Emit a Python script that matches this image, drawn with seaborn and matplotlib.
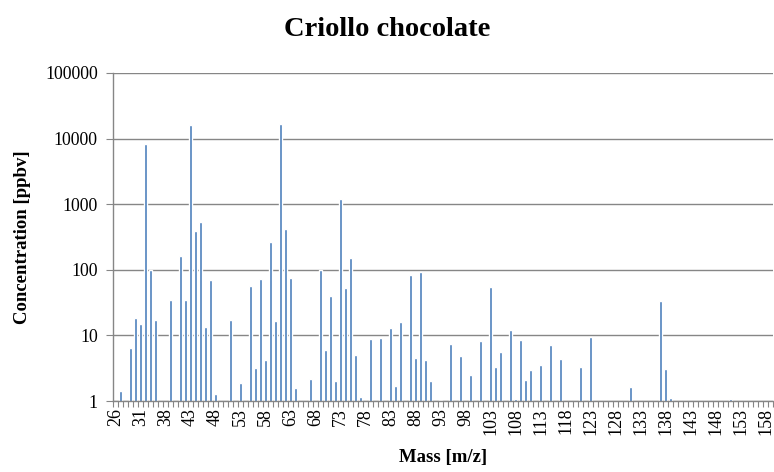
import numpy as np
import pandas as pd
import matplotlib
matplotlib.use("Agg")
import matplotlib.pyplot as plt
from matplotlib.ticker import FixedLocator, FuncFormatter, NullLocator
import seaborn as sns

# m/z channels shown on the category axis (32 and 37 are not reported)
masses = [26, 27, 28, 29, 30, 31, 33, 34, 35, 36] + list(range(38, 160))

# measured concentrations [ppbv]; None = nothing above 1 ppbv
conc_by_mass = {
    27: 1.4, 29: 6.4, 30: 18.5, 31: 15, 33: 8200, 34: 99, 35: 17,
    39: 34.5, 41: 163, 42: 34.5, 43: 16200, 44: 395, 45: 530, 46: 13.2,
    47: 71, 48: 1.3, 51: 17.3, 53: 1.9, 55: 56, 56: 3.2, 57: 73.5,
    58: 4.25, 59: 262, 60: 16.6, 61: 16800, 62: 426, 63: 76, 64: 1.6,
    67: 2.2, 69: 99, 70: 6.0, 71: 40, 72: 2.05, 73: 1200, 74: 52,
    75: 152, 76: 5.1, 77: 1.15, 79: 8.8, 81: 9.0, 83: 13.1, 84: 1.72,
    85: 16.2, 87: 84, 88: 4.5, 89: 93, 90: 4.2, 91: 2.0, 93: 1.04,
    95: 7.5, 97: 4.8, 99: 2.5, 101: 8.1, 103: 55, 104: 3.3, 105: 5.6,
    107: 11.9, 108: 1.06, 109: 8.6, 110: 2.1, 111: 3.0, 113: 3.55,
    115: 7.1, 117: 4.3, 121: 3.35, 123: 9.3, 131: 1.64, 137: 33,
    138: 3.1, 139: 1.13, 151: 1.07,
}
concentration = [conc_by_mass.get(m) for m in masses]

labels = [str(m) for m in masses]
df = pd.DataFrame({"mass": labels, "ppbv": concentration}).dropna()

sns.set_style("white")
plt.rcParams["font.family"] = ["Liberation Serif", "DejaVu Serif"]
plt.rcParams["text.color"] = "black"
plt.rcParams["axes.labelcolor"] = "black"
plt.rcParams["xtick.labelcolor"] = "black"
plt.rcParams["ytick.labelcolor"] = "black"

fig = plt.figure(figsize=(7.74, 4.72), dpi=100)
ax = fig.add_axes([113 / 774, 71 / 472, 660 / 774, 328 / 472])

bar_blue = "#4A7EBB"
grid_grey = "#868686"

sns.barplot(data=df, x="mass", y="ppbv", order=labels, color=bar_blue,
            saturation=1, width=0.5, ax=ax, errorbar=None)

ax.set_yscale("log")
ax.set_ylim(1, 100000)
ax.set_xlim(-0.5, len(masses) - 0.5)

# y axis: one labelled line per decade
decades = [1, 10, 100, 1000, 10000, 100000]
ax.yaxis.set_major_locator(FixedLocator(decades))
ax.yaxis.set_minor_locator(NullLocator())
ax.yaxis.set_major_formatter(FuncFormatter(lambda v, p: f"{int(round(v))}"))
ax.grid(axis="y", color=grid_grey, linewidth=1.0)
ax.set_axisbelow(True)

# x axis: label every fifth channel, tick marks between all channels
ax.set_xticks(range(0, len(masses), 5))
ax.set_xticklabels(labels[::5], rotation=90)
ax.set_xticks(np.arange(-0.5, len(masses), 1.0), minor=True)
ax.tick_params(axis="x", which="major", length=0, pad=5, labelsize=13)
ax.tick_params(axis="x", which="minor", length=4, width=0.8,
               color=grid_grey, direction="out", bottom=True)
ax.tick_params(axis="y", which="major", length=5, width=0.8,
               color=grid_grey, direction="out", left=True, labelsize=12.8,
               pad=6)

for side in ("top", "right"):
    ax.spines[side].set_visible(False)
for side in ("left", "bottom"):
    ax.spines[side].set_color(grid_grey)
    ax.spines[side].set_linewidth(1.0)

ax.set_xlabel("Mass [m/z]", fontsize=13.5, fontweight="bold", labelpad=10)
ax.set_ylabel("Concentration [ppbv]", fontsize=13.5, fontweight="bold",
              labelpad=10)
fig.text(0.5, 1 - 30 / 472, "Criollo chocolate", ha="center", va="center",
         fontsize=20.5, fontweight="bold")

fig.savefig("out.png", dpi=100)
